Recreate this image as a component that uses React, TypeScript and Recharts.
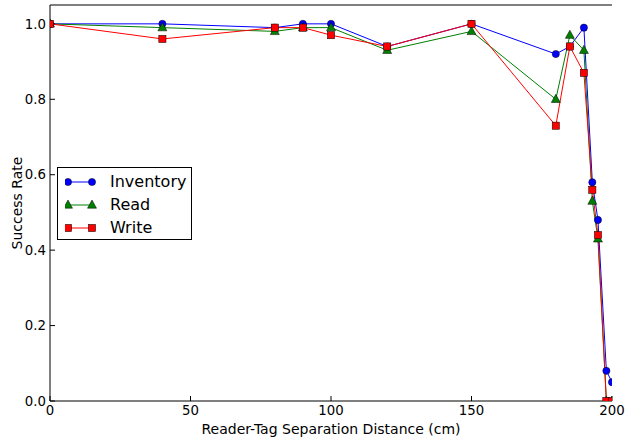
import React from "react";
import { LineChart, Line, XAxis, YAxis, Legend } from "recharts";

const distInventory = [0, 40, 80, 90, 100, 120, 150, 180, 185, 190, 193, 195, 198, 200];
const rateInventory = [1.0, 1.0, 0.99, 1.0, 1.0, 0.94, 1.0, 0.92, 0.94, 0.99, 0.58, 0.48, 0.08, 0.05];

const distRead = [0, 40, 80, 90, 100, 120, 150, 180, 185, 190, 193, 195, 198, 200];
const rateRead = [1.0, 0.99, 0.98, 0.99, 0.99, 0.93, 0.98, 0.8, 0.97, 0.93, 0.53, 0.43, 0.0, 0.0];

const distWrite = [0, 40, 80, 90, 100, 120, 150, 180, 185, 190, 193, 195, 198, 200];
const rateWrite = [1.0, 0.96, 0.99, 0.99, 0.97, 0.94, 1.0, 0.73, 0.94, 0.87, 0.56, 0.44, 0.0, 0.0];

const xTicks = [0, 50, 100, 150, 200];
const yTicks = [0, 0.2, 0.4, 0.6, 0.8, 1.0];

const toRows = (xs: number[], ys: number[]) => xs.map((x, i) => ({ x, y: ys[i] }));

const inventory = toRows(distInventory, rateInventory);
const read = toRows(distRead, rateRead);
const write = toRows(distWrite, rateWrite);

const font = "'DejaVu Sans', sans-serif";
const tickStyle = { fontSize: 13.3, fill: "#000", fontFamily: font };
const labelStyle = { fontSize: 14, fill: "#000", fontFamily: font };

const circleDot = (p: any) => (
  <circle key={`c${p.index}`} cx={p.cx} cy={p.cy} r={3.6} fill="#0000ff" stroke="#000" strokeWidth={0.5} />
);
const triangleDot = (p: any) => (
  <polygon
    key={`t${p.index}`}
    points={`${p.cx},${p.cy - 5} ${p.cx - 4.5},${p.cy + 3.2} ${p.cx + 4.5},${p.cy + 3.2}`}
    fill="#008000"
    stroke="#000"
    strokeWidth={0.5}
  />
);
const squareDot = (p: any) => (
  <rect key={`s${p.index}`} x={p.cx - 3.6} y={p.cy - 3.6} width={7.2} height={7.2} fill="#ff0000" stroke="#000" strokeWidth={0.5} />
);

const legendItems = [
  { name: "Inventory", color: "#0000ff", shape: "circle" },
  { name: "Read", color: "#008000", shape: "triangle" },
  { name: "Write", color: "#ff0000", shape: "square" },
];

function marker(shape: string, color: string, cx: number, cy: number) {
  if (shape === "circle") return <circle cx={cx} cy={cy} r={3.6} fill={color} stroke="#000" strokeWidth={0.5} />;
  if (shape === "triangle")
    return (
      <polygon
        points={`${cx},${cy - 5} ${cx - 4.5},${cy + 3.2} ${cx + 4.5},${cy + 3.2}`}
        fill={color}
        stroke="#000"
        strokeWidth={0.5}
      />
    );
  return <rect x={cx - 3.6} y={cy - 3.6} width={7.2} height={7.2} fill={color} stroke="#000" strokeWidth={0.5} />;
}

const LegendBox = () => (
  <div
    style={{
      width: 133,
      height: 71,
      border: "1px solid #000",
      background: "#fff",
      fontFamily: font,
      fontSize: 16,
      boxSizing: "content-box",
    }}
  >
    {legendItems.map((it, i) => (
      <div key={it.name} style={{ position: "absolute", left: 8, top: 5 + i * 23, height: 20, display: "flex", alignItems: "center" }}>
        <svg width={32} height={14} style={{ display: "block" }}>
          <line x1={3} y1={7} x2={27} y2={7} stroke={it.color} strokeWidth={1} />
          {marker(it.shape, it.color, 3, 7)}
          {marker(it.shape, it.color, 27, 7)}
        </svg>
        <span style={{ marginLeft: 13, lineHeight: "20px" }}>{it.name}</span>
      </div>
    ))}
  </div>
);

export default function App() {
  return (
    <div style={{ position: "absolute", left: 0, top: 0, width: 626, height: 438, background: "#fff" }}>
      <LineChart width={626} height={438} margin={{ top: 4, right: 14, bottom: 0, left: 0 }}>
        <XAxis
          dataKey="x"
          type="number"
          domain={[0, 200]}
          ticks={xTicks}
          allowDataOverflow
          height={37}
          tickSize={-5}
          tickMargin={10}
          stroke="#000"
          tick={tickStyle}
          label={{ value: "Reader-Tag Separation Distance (cm)", position: "insideBottom", offset: 4, style: labelStyle }}
        />
        <XAxis
          xAxisId="top"
          orientation="top"
          dataKey="x"
          type="number"
          domain={[0, 200]}
          ticks={xTicks}
          height={1}
          tickSize={-5}
          tick={false}
          stroke="#000"
        />
        <YAxis
          type="number"
          domain={[0, 1.05]}
          ticks={yTicks}
          allowDataOverflow
          width={50}
          tickSize={-5}
          tickMargin={9}
          stroke="#000"
          tick={tickStyle}
          tickFormatter={(v: number) => v.toFixed(1)}
          label={{ value: "Success Rate", angle: -90, position: "center", dx: -8, style: labelStyle }}
        />
        <YAxis
          yAxisId="right"
          orientation="right"
          type="number"
          domain={[0, 1.05]}
          ticks={yTicks}
          width={0}
          tickSize={-5}
          tick={false}
          stroke="#000"
        />
        <Legend
          layout="vertical"
          align="center"
          verticalAlign="middle"
          content={() => <LegendBox />}
          wrapperStyle={{ left: 57, top: 167, width: 135, height: 73 }}
        />
        <Line data={inventory} dataKey="y" name="Inventory" stroke="#0000ff" strokeWidth={1} dot={circleDot} isAnimationActive={false} />
        <Line data={read} dataKey="y" name="Read" stroke="#008000" strokeWidth={1} dot={triangleDot} isAnimationActive={false} />
        <Line data={write} dataKey="y" name="Write" stroke="#ff0000" strokeWidth={1} dot={squareDot} isAnimationActive={false} />
      </LineChart>
    </div>
  );
}
